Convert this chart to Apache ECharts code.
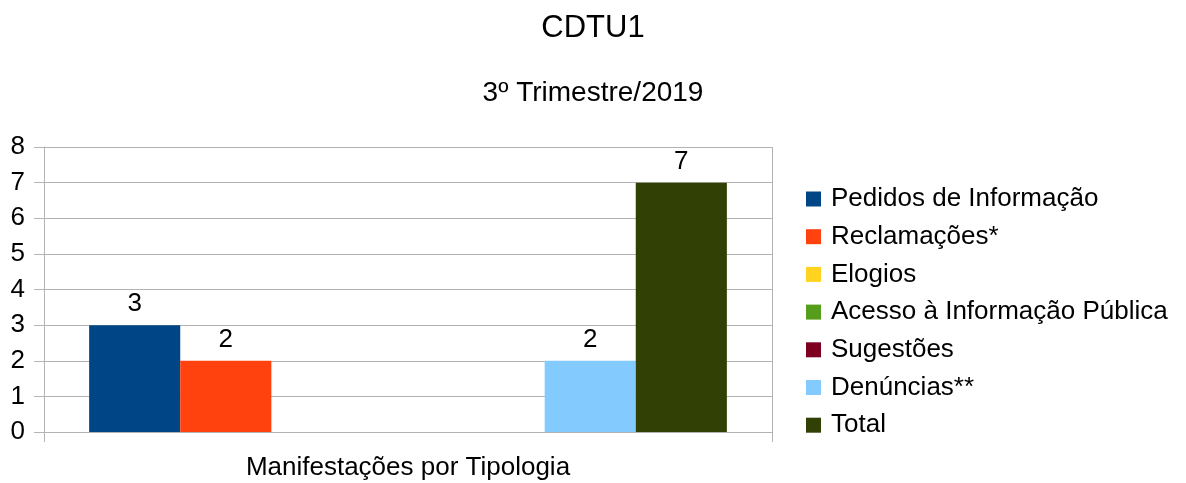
<!DOCTYPE html>
<html>
<head>
<meta charset="utf-8">
<script src="https://cdn.jsdelivr.net/npm/echarts@6/dist/echarts.min.js"></script>
<style>
    html, body { margin: 0; padding: 0; background: #fff; }
    #main { width: 1186px; height: 483px; }
</style>
</head>
<body>
<div id="main"></div>
<script>
// dados do gráfico
let categories = ['Manifestações por Tipologia']
let seriesNames = ['Pedidos de Informação', 'Reclamações*', 'Elogios', 'Acesso à Informação Pública', 'Sugestões', 'Denúncias**', 'Total']
let seriesValues = [3, 2, null, null, null, 2, 7]
let seriesColors = ['#004586', '#ff420e', '#ffd320', '#579d1c', '#7e0021', '#83caff', '#314004']
let yTicks = [0, 1, 2, 3, 4, 5, 6, 7, 8]

let font = 'Liberation Sans, Arial, sans-serif'
let gridColor = '#b3b3b3'

var chartDom = document.getElementById('main')
var myChart = echarts.init(chartDom)

let series = seriesNames.map(function (name, i) {
    return {
        name: name,
        type: 'bar',
        data: [seriesValues[i]],
        barGap: 0,
        barCategoryGap: '12.4%',
        itemStyle: { color: seriesColors[i] },
        label: {
            show: true,
            position: 'top',
            distance: 8,
            fontSize: 26,
            fontFamily: font,
            color: '#000',
        },
    }
})

var option = {
    animation: false,
    title: [
        {
            text: 'CDTU1',
            left: 'center',
            top: 8,
            textStyle: { fontSize: 31, fontWeight: 'normal', fontFamily: font, color: '#000' },
        },
        {
            text: '3º Trimestre/2019',
            left: 'center',
            top: 74,
            textStyle: { fontSize: 28, fontWeight: 'normal', fontFamily: font, color: '#000' },
        },
    ],
    legend: {
        orient: 'vertical',
        left: 806,
        top: 186,
        padding: 0,
        itemWidth: 15,
        itemHeight: 15,
        itemGap: 11.7,
        icon: 'rect',
        textStyle: { fontSize: 26, fontFamily: font, color: '#000', padding: [0, 0, 0, 5] },
        data: seriesNames,
    },
    grid: { left: 44, right: 414, top: 147, bottom: 51, containLabel: false },
    xAxis: {
        type: 'category',
        data: categories,
        axisLine: { lineStyle: { color: gridColor } },
        axisTick: { show: true, length: 10, lineStyle: { color: gridColor } },
        splitLine: { show: true, lineStyle: { color: gridColor } },
        axisLabel: { fontSize: 26, fontFamily: font, color: '#000', margin: 23 },
    },
    yAxis: {
        type: 'value',
        min: yTicks[0],
        max: yTicks[yTicks.length - 1],
        interval: 1,
        axisLine: { show: true, lineStyle: { color: gridColor } },
        axisTick: { show: true, length: 10, lineStyle: { color: gridColor } },
        splitLine: { show: true, lineStyle: { color: gridColor } },
        axisLabel: { fontSize: 26, fontFamily: font, color: '#000', margin: 19 },
    },
    series: series,
}
option && myChart.setOption(option)
</script>
</body>
</html>
